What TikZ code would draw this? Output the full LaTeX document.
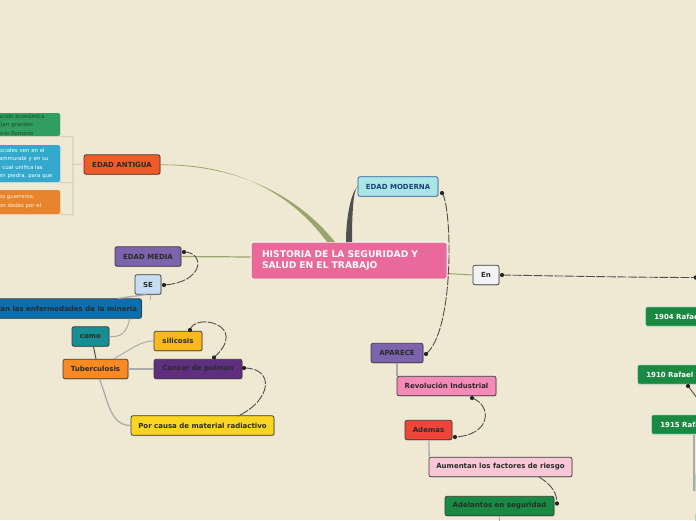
\documentclass[tikz,border=0pt]{standalone}
\usepackage{fontspec}
\setmainfont{DejaVu Sans}
\usetikzlibrary{shadows,calc}
\definecolor{bg}{HTML}{EFE9D3}
\definecolor{olive}{HTML}{9AA56E}
\definecolor{dgray}{HTML}{505050}
\definecolor{lgray}{HTML}{ABABAB}
\definecolor{brk}{HTML}{D8D2B0}
\definecolor{bord}{HTML}{3A3A3A}
\definecolor{txt}{HTML}{2A2A2A}
\definecolor{cpink}{HTML}{E8699A}
\definecolor{cant}{HTML}{F05A28}
\definecolor{cmod}{HTML}{A9E6E6}
\definecolor{cmodb}{HTML}{2B5DA0}
\definecolor{cmodt}{HTML}{1F3F7F}
\definecolor{cmed}{HTML}{7D62AC}
\definecolor{cse}{HTML}{C7DEF2}
\definecolor{cenf}{HTML}{0A6FAE}
\definecolor{ccomo}{HTML}{178F92}
\definecolor{csil}{HTML}{F8B81E}
\definecolor{ctub}{HTML}{F78A22}
\definecolor{ccan}{HTML}{5E2F7E}
\definecolor{cpor}{HTML}{F9D51F}
\definecolor{cen}{HTML}{F3F3F3}
\definecolor{crev}{HTML}{F48BB6}
\definecolor{cade}{HTML}{EE453A}
\definecolor{caum}{HTML}{F9C7D5}
\definecolor{cgreen}{HTML}{1A8A42}
\definecolor{pgreen}{HTML}{2F9E60}
\definecolor{pgreent}{HTML}{1E4A2C}
\definecolor{pblue}{HTML}{35A9CD}
\definecolor{porange}{HTML}{E8842C}
\tikzset{
  box/.style={draw=bord, line width=0.7pt, rounded corners=2pt, inner sep=0pt,
    minimum height=19.5pt, text=txt, font=\fontsize{7}{8}\selectfont\bfseries,
    drop shadow={opacity=0.25, shadow xshift=0.8pt, shadow yshift=-0.8pt}},
  gbox/.style={box, draw=white!85!cgreen, fill=cgreen, text=white, anchor=west,
    align=left, text width=92pt, minimum width=110pt},
  pbox/.style={draw=none, rounded corners=2pt, inner xsep=4pt, inner ysep=0pt,
    text width=57pt, align=left, font=\fontsize{5.4}{8.5}\selectfont,
    drop shadow={opacity=0.2, shadow xshift=0.6pt, shadow yshift=-0.6pt}},
  conn/.style={draw=dgray, line width=0.9pt, dash pattern=on 9pt off 1.5pt},
  tree/.style={draw=lgray, line width=1.3pt},
  dot/.style={fill=black!85, draw=none},
}
\begin{document}
\begin{tikzpicture}[x=1pt,y=-1pt]
\fill[bg] (0,0) rectangle (696,520);
\useasboundingbox (0,0) rectangle (696,520);

% ---- left partial boxes
\node[pbox, fill=pgreen, text=pgreent, minimum height=23pt] (p1) at (27.5,124.5) {ación económica\\rjan grandes\\erio Romano};
\node[pbox, fill=pblue, text=white, minimum height=37pt] (p2) at (27.5,163.5) {ociales ven en el\\ammurabi y en su\\l cual unifica las\\en piedra, para que};
\node[pbox, fill=porange, text=white!90!orange, minimum height=24pt] (p3) at (27.5,202) {os guerreros,\\on dadas por el};

% ---- nodes
\node[box, fill=cpink, draw=white, line width=1pt, text=white, minimum width=196pt, minimum height=37pt,
  text width=174pt, align=left, font=\fontsize{9.2}{11}\selectfont\bfseries] (ctr) at (349,260.5)
  {HISTORIA DE LA SEGURIDAD Y\\SALUD EN EL TRABAJO};
\node[box, fill=cant, minimum width=76pt] (ant) at (122,164.5) {EDAD ANTIGUA};
\node[box, fill=cmod, draw=cmodb, text=cmodt, minimum width=80pt] (mod) at (398,186.5) {EDAD MODERNA};
\node[box, fill=cmed, minimum width=66pt] (med) at (148,256.5) {EDAD MEDIA};
\node[box, fill=cse, minimum width=26pt] (se) at (148,284.5) {SE};
\node[box, fill=cenf, minimum width=149pt] (enf) at (67,308.5) {ran las enfermedades de la mineria};
\node[box, fill=ccomo, minimum width=37pt] (como) at (90.5,336.5) {como};
\node[box, fill=csil, minimum width=48pt] (sil) at (178,341) {silicosis};
\node[box, fill=ctub, minimum width=65pt] (tub) at (95.5,369) {Tuberculosis};
\node[box, fill=ccan, minimum width=88pt] (can) at (198,369) {Cancer de pulmon};
\node[box, fill=cpor, minimum width=143pt] (por) at (202.5,425.5) {Por causa de material radiactivo};
\node[box, fill=cmed, minimum width=52pt] (apa) at (397,353) {APARECE};
\node[box, fill=cen, minimum width=26pt] (en) at (486,275) {En};
\node[box, fill=crev, minimum width=99pt] (rev) at (446.5,386) {Revolución Industrial};
\node[box, fill=cade, minimum width=47pt] (ade) at (428.5,430) {Ademas};
\node[box, fill=caum, minimum width=143pt] (aum) at (500.5,467) {Aumentan los factores de riesgo};
\node[box, fill=cgreen, minimum width=109pt] (adel) at (499.5,506) {Adelantos en seguridad};
\node[gbox] (r1904) at (645,316.5) {1904 Rafael};
\node[gbox] (r1910) at (637,374.5) {1910 Rafael U};
\node[gbox] (r1915) at (651,424.5) {1915 Rafa};
\node[gbox, minimum width=20pt, text width=10pt, minimum height=20pt] (g4) at (695,482.5) {};
\node[gbox, minimum width=20pt, text width=10pt, minimum height=20pt] (g5) at (695,522) {};

% ---- bracket of EDAD ANTIGUA
\coordinate (bk) at (73,164);
\draw[brk, line width=1.1pt] (p1.south east) -- (73,137) -- (73,215) -- (p3.south east);
\draw[brk, line width=1.1pt] (p2.south east) -- (73,183);
\draw[brk, line width=1.1pt] (ant.west) -- (bk);

% ---- main branches (tapered)
\fill[olive] (ant.east) .. controls (230,163.4) and (288,189) .. (327,242)
  -- (335,242) .. controls (293,190) and (230,164.8) .. ([yshift=-0.6pt]ant.east) -- cycle;
\fill[dgray] ([yshift=-0.5pt]mod.west) .. controls (352,190) and (346,215) .. (346,242)
  -- (352,242) .. controls (352,215) and (353,191) .. ([yshift=0.6pt]mod.west) -- cycle;
\draw[olive, line width=1.2pt] (med.east) -- ([yshift=3.5pt]ctr.west);
\draw[olive, line width=1pt] ([yshift=-13pt]ctr.east) -- (en.west);

% ---- tree lines
\draw[tree] ([xshift=-2pt]se.south) -- ([xshift=-24pt]enf.north east);
\draw[tree, line width=0.9pt] ([xshift=2pt]se.south) -- ([xshift=2pt,yshift=-5pt]se.south);
\draw[tree, line width=1pt] ([xshift=-12pt]enf.south east) .. controls (126,334) and (121,337) .. (como.east);
\draw[dgray, line width=1pt] ([xshift=3pt]como.south) -- ([xshift=0.5pt]tub.north);
\draw[tree, line width=1pt] ([xshift=18pt]tub.north) .. controls (130,350) and (140,341) .. (sil.west);
\draw[tree, line width=1.6pt] (tub.east) -- (can.west);
\draw[tree, line width=1.3pt] ([xshift=4pt]tub.south) .. controls (108,400) and (110,425.5) .. (por.west);
\draw[tree] (apa.south) -- ([xshift=-49.5pt]rev.north);
\draw[tree] ([xshift=0.5pt]ade.south) -- ([xshift=0.5pt]aum.north west);
\draw[tree] (adel.south) -- ([yshift=-8pt]adel.south);
\draw[tree] ([xshift=43pt]r1915.south west) -- ([xshift=43pt,yshift=-56pt]r1915.south west);

% ---- dashed connections with dots
\coordinate (m1) at (442,193);
\coordinate (a1) at (426,354);
\draw[conn] (m1) .. controls (452,205) and (455,330) .. (a1);
\fill[dot] (m1) circle (2.1pt); \fill[dot] (a1) circle (2.1pt);

\coordinate (d1) at (184,252);
\coordinate (d2) at (164,285);
\draw[conn] (d1) .. controls (205,252) and (205,282) .. (d2);
\fill[dot] (d1) circle (2.1pt); \fill[dot] (d2) circle (2.1pt);

\coordinate (s1) at (190,330);
\coordinate (s2) at (214,357.5);
\draw[conn] (s1) .. controls (195,312) and (250,325) .. (s2);
\fill[dot] (s1) circle (2.1pt); \fill[dot] (s2) circle (2.1pt);

\coordinate (c1) at (244,368);
\coordinate (c2) at (238,416);
\draw[conn] (c1) .. controls (275,368) and (272,400) .. (c2);
\fill[dot] (c1) circle (2.1pt);

\coordinate (v1) at (472,398);
\coordinate (v2) at (455,437);
\draw[conn] (v1) .. controls (492,405) and (492,435) .. (v2);
\fill[dot] (v1) circle (2.1pt); \fill[dot] (v2) circle (2.1pt);

\coordinate (u1) at (539,477);
\coordinate (u2) at (557,503.5);
\draw[conn] (u1) .. controls (552,485) and (557,493) .. (u2);
\fill[dot] (u2) circle (2.1pt);

\coordinate (e1) at (502,275);
\coordinate (e2) at (696,277.5);
\draw[conn] (e1) .. controls (560,276) and (640,277.5) .. (e2);
\fill[dot] (e1) circle (2.1pt); \fill[dot] (e2) circle (2.3pt);

\coordinate (t1) at (688,386);
\coordinate (t2) at (697,398);
\draw[dgray, line width=0.9pt] (t1) -- (t2);
\fill[dot] (t1) circle (2.1pt);
\end{tikzpicture}
\end{document}
